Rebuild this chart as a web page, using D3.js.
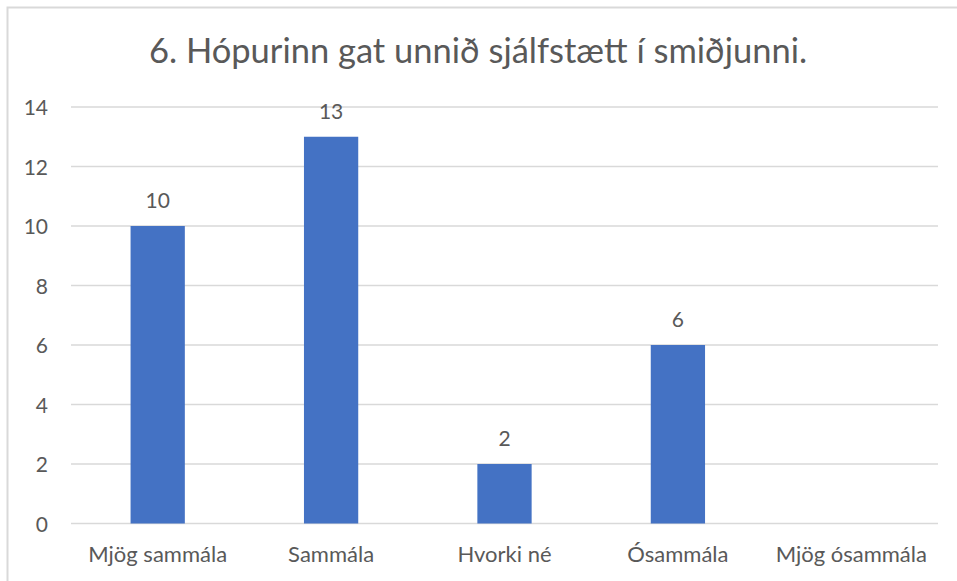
<!DOCTYPE html>
<html>
<head>
<meta charset="utf-8">
<script src="https://cdn.jsdelivr.net/npm/d3@7"></script>
<style>
  html, body { margin: 0; padding: 0; background: #fff; }
  svg { display: block; }
  text { font-family: Lato, Carlito, "Open Sans", sans-serif; fill: #595959; }
</style>
</head>
<body>
<svg id="chart" width="957" height="581"></svg>
<script>
const title = "6. Hópurinn gat unnið sjálfstætt í smiðjunni.";
const categories = ["Mjög sammála", "Sammála", "Hvorki né", "Ósammála", "Mjög ósammála"];
const values = [10, 13, 2, 6, null];
const yTicks = [0, 2, 4, 6, 8, 10, 12, 14];

const svg = d3.select("#chart");
const W = 957, H = 581;
const plot = { left: 71, right: 938, top: 107, bottom: 523.5 };

// outer chart border
svg.append("rect")
  .attr("x", 7.5).attr("y", 7.5)
  .attr("width", W + 10).attr("height", H + 10)
  .attr("fill", "none").attr("stroke", "#d9d9d9").attr("stroke-width", 2);

const x = d3.scaleBand()
  .domain(categories)
  .range([plot.left, plot.right])
  .paddingInner(0.687)
  .paddingOuter(0.3435);

const y = d3.scaleLinear().domain([0, 14]).range([plot.bottom, plot.top]);

// gridlines
svg.append("g").selectAll("line").data(yTicks).join("line")
  .attr("x1", plot.left).attr("x2", plot.right)
  .attr("y1", d => y(d)).attr("y2", d => y(d))
  .attr("stroke", "#d9d9d9").attr("stroke-width", 1.3);

// y axis labels
const yAxis = d3.axisLeft(y).tickValues(yTicks).tickSize(0).tickPadding(0);
const gy = svg.append("g").attr("transform", `translate(${plot.left - 23},0)`).call(yAxis);
gy.select(".domain").remove();
gy.selectAll("text").attr("font-size", 21).attr("fill", "#595959")
  .style("font-family", "Lato, Carlito, sans-serif").attr("dy", "0.36em");

// bars
const data = categories.map((c, i) => ({ c, v: values[i] }));
svg.append("g").selectAll("rect").data(data.filter(d => d.v != null)).join("rect")
  .attr("x", d => x(d.c)).attr("width", x.bandwidth())
  .attr("y", d => y(d.v)).attr("height", d => y(0) - y(d.v))
  .attr("fill", "#4472c4");

// data labels
svg.append("g").selectAll("text").data(data.filter(d => d.v != null)).join("text")
  .attr("x", d => x(d.c) + x.bandwidth() / 2)
  .attr("y", d => y(d.v) - 18)
  .attr("text-anchor", "middle").attr("font-size", 21)
  .text(d => d.v);

// x axis labels
const xAxis = d3.axisBottom(x).tickSize(0).tickPadding(0);
const gx = svg.append("g").attr("transform", `translate(0,${plot.bottom})`).call(xAxis);
gx.select(".domain").remove();
gx.selectAll("text").attr("font-size", 22).attr("fill", "#595959")
  .style("font-family", "Lato, Carlito, sans-serif").attr("y", 38).attr("dy", 0);

// title
svg.append("text")
  .attr("x", 478).attr("y", 63)
  .attr("text-anchor", "middle").attr("font-size", 34.5)
  .text(title);
</script>
</body>
</html>
